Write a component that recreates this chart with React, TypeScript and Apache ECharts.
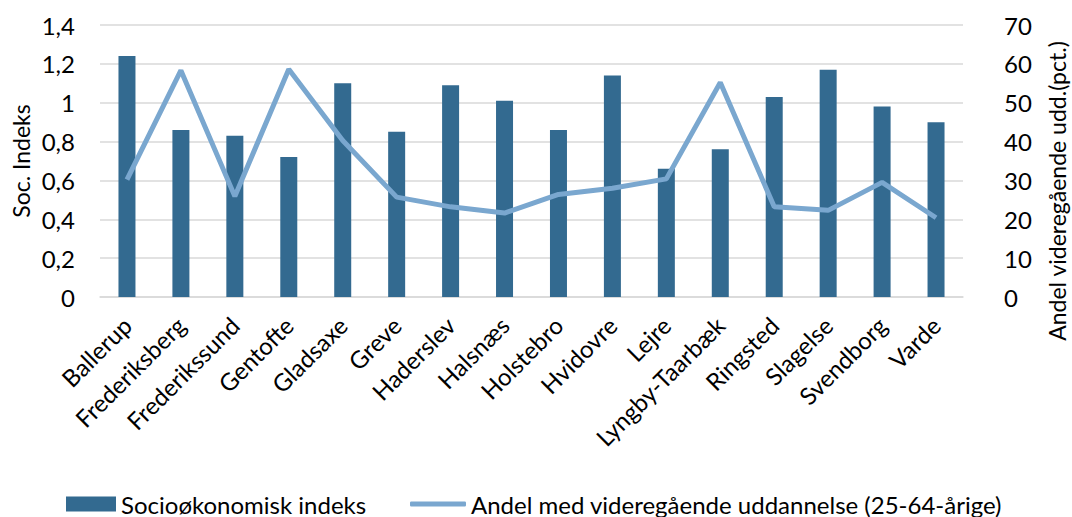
import React, { useEffect, useRef } from "react";
import * as echarts from "echarts";

const categories = [
  "Ballerup", "Frederiksberg", "Frederikssund", "Gentofte", "Gladsaxe", "Greve",
  "Haderslev", "Halsnæs", "Holstebro", "Hvidovre", "Lejre", "Lyngby-Taarbæk",
  "Ringsted", "Slagelse", "Svendborg", "Varde",
];
const socIndex = [1.24, 0.86, 0.83, 0.72, 1.10, 0.85, 1.09, 1.01, 0.86, 1.14, 0.66, 0.76, 1.03, 1.17, 0.98, 0.90];
const andelVidere = [30.2, 58.3, 25.9, 58.6, 40.3, 25.7, 23.2, 21.6, 26.4, 28.0, 30.4, 55.2, 23.2, 22.3, 29.5, 20.4];

const barName = "Socioøkonomisk indeks";
const lineName = "Andel med videregående uddannelse (25-64-årige)";
const leftName = "Soc. Indeks";
const rightName = "Andel videregående udd.(pct.)";

const FONT = "Lato";

export default function App() {
  const ref = useRef<HTMLDivElement>(null);
  useEffect(() => {
    const chart = echarts.init(ref.current!, null, { renderer: "svg" });
    chart.setOption({
      animation: false,
      textStyle: { fontFamily: FONT, color: "#000" },
      grid: { left: 100, right: 109, top: 25, bottom: 220 },
      legend: [
        {
          data: [barName],
          left: 66,
          top: 491,
          padding: 0,
          itemWidth: 50,
          itemHeight: 15,
          icon: "rect",
          textStyle: { fontFamily: FONT, fontSize: 24, color: "#000", lineHeight: 26 },
        },
        {
          data: [lineName],
          left: 410,
          top: 491,
          padding: 0,
          itemWidth: 56,
          itemHeight: 5,
          icon: "roundRect",
          textStyle: { fontFamily: FONT, fontSize: 24, color: "#000", lineHeight: 26 },
        },
      ],
      xAxis: {
        type: "category",
        data: categories,
        axisTick: { show: false },
        axisLine: { show: true, lineStyle: { color: "#d9d9d9", width: 1.5 } },
        axisLabel: {
          rotate: 45,
          interval: 0,
          fontSize: 24,
          color: "#000",
          fontFamily: FONT,
          margin: 24,
        },
      },
      yAxis: [
        {
          type: "value",
          min: 0,
          max: 1.4,
          interval: 0.2,
          axisLine: { show: false },
          axisTick: { show: false },
          splitLine: { lineStyle: { color: "#d9d9d9", width: 1.5 } },
          axisLabel: {
            fontSize: 24,
            color: "#000",
            fontFamily: FONT,
            margin: 25,
            formatter: (v: number) => (Math.round(v * 10) / 10).toString().replace(".", ","),
          },
        },
        {
          type: "value",
          min: 0,
          max: 70,
          interval: 10,
          axisLine: { show: false },
          axisTick: { show: false },
          splitLine: { show: false },
          axisLabel: { fontSize: 24, color: "#000", fontFamily: FONT, margin: 41 },
        },
      ],
      series: [
        {
          name: barName,
          type: "bar",
          data: socIndex,
          yAxisIndex: 0,
          barWidth: 17,
          itemStyle: { color: "#336a90" },
        },
        {
          name: lineName,
          type: "line",
          data: andelVidere,
          yAxisIndex: 1,
          symbol: "none",
          lineStyle: { color: "#7aa7cf", width: 5 },
          itemStyle: { color: "#7aa7cf" },
        },
      ],
      graphic: [
        {
          type: "text",
          x: 21,
          y: 161,
          rotation: Math.PI / 2,
          style: {
            text: leftName,
            fontFamily: FONT,
            fontSize: 23,
            fill: "#000",
            align: "center",
            verticalAlign: "middle",
          },
        },
        {
          type: "text",
          x: 1057,
          y: 191,
          rotation: Math.PI / 2,
          style: {
            text: rightName,
            fontFamily: FONT,
            fontSize: 23,
            fill: "#000",
            align: "center",
            verticalAlign: "middle",
          },
        },
      ],
    });
    return () => chart.dispose();
  }, []);
  return (
    <div
      ref={ref}
      style={{ position: "absolute", left: 0, top: 0, width: 1072, height: 517 }}
    />
  );
}
